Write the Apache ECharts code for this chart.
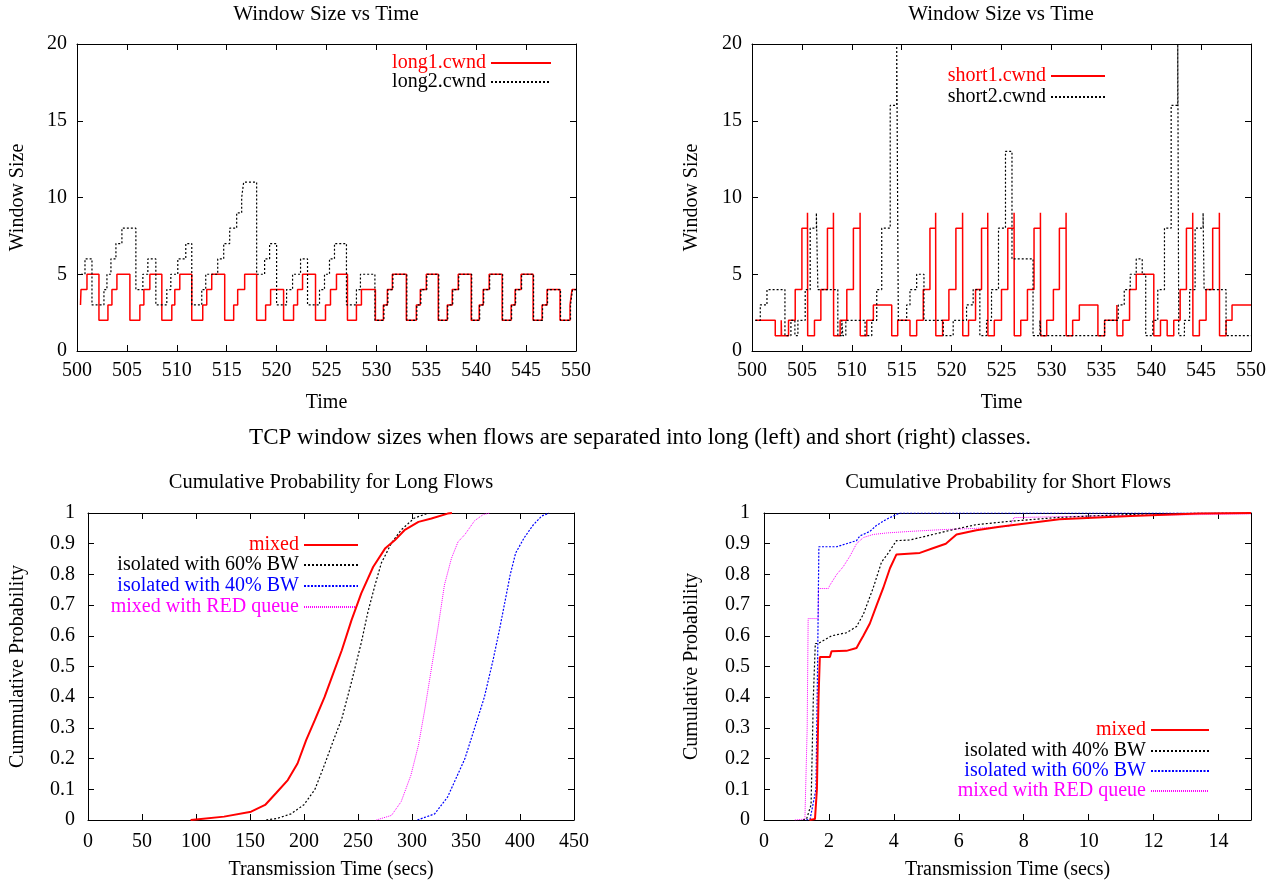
<!DOCTYPE html>
<html><head><meta charset="utf-8">
<script src="https://cdn.jsdelivr.net/npm/echarts@6/dist/echarts.min.js"></script>
<style>html,body{margin:0;padding:0;background:#fff;} .c{position:absolute;left:0;top:0;width:1279px;height:888px;}</style>
</head><body>
<div id="top" class="c"></div><div id="bl" class="c"></div><div id="br" class="c"></div>
<script>
const FONT = 'Liberation Serif';

// ---- Top-left: long flows window size (step data [time, cwnd]) ----
const long1 = [[500.35,3],[500.4,4],[501.0,5],[502.2,2],[503.1,3],[503.5,4],[504.0,5],[505.3,2],[506.3,3],[506.7,4],[507.3,5],[508.5,2],[509.5,3],[509.8,4],[510.3,5],[511.5,2],[512.6,3],[513.0,4],[513.5,5],[514.8,2],[515.7,3],[516.1,4],[516.8,5],[518.0,2],[518.9,3],[519.4,4],[520.7,2],[521.7,3],[522.1,4],[522.6,5],[523.9,2],[524.9,3],[525.4,4],[526.0,5],[527.1,2],[528.0,3],[528.5,4],[529.9,2],[530.7,3],[531.1,4],[531.6,5],[533.0,2],[534.0,3],[534.4,4],[535.0,5],[536.2,2],[537.1,3],[537.6,4],[538.2,5],[539.5,2],[540.3,3],[540.7,4],[541.3,5],[542.6,2],[543.5,3],[543.9,4],[544.5,5],[545.7,2],[546.6,3],[547.1,4],[548.4,2],[549.4,3],[549.6,4],[550,4]];
const long2 = [[500.4,5],[500.8,6],[501.5,3],[502.7,4],[503.0,5],[503.4,6],[503.9,7],[504.5,8],[505.9,4],[506.6,5],[507.1,6],[507.9,3],[509.0,4],[509.4,5],[510.1,6],[510.9,7],[511.5,3],[512.5,4],[512.9,5],[514.1,6],[514.7,7],[515.3,8],[516.0,9],[516.5,10],[516.7,11],[518.0,5],[518.8,6],[519.3,7],[520.0,3],[521.0,4],[521.6,5],[522.4,6],[523.1,3],[524.3,4],[524.8,5],[525.3,6],[525.8,7],[527.0,3],[528.0,4],[528.4,5],[529.85,2],[530.75,3],[531.15,4],[531.65,5],[533.05,2],[534.05,3],[534.45,4],[535.05,5],[536.25,2],[537.15,3],[537.65,4],[538.25,5],[539.55,2],[540.35,3],[540.75,4],[541.35,5],[542.65,2],[543.55,3],[543.95,4],[544.55,5],[545.75,2],[546.65,3],[547.15,4],[548.45,2],[549.45,3],[549.65,4],[550,4]];

// ---- Top-right: short flows window size ----
const short1 = [[500.33,2],[502.33,1],[502.93,2],[502.96,1],[503.66,2],[504.33,4],[505.0,8],[505.56,9],[505.58,1],[506.26,2],[506.9,4],[507.56,8],[508.16,9],[508.18,1],[508.83,2],[509.5,4],[510.16,8],[510.83,9],[510.85,1],[511.5,2],[512.16,3],[514.0,1],[514.6,2],[515.83,1],[516.5,2],[517.16,4],[517.83,8],[518.4,9],[518.42,1],[519.1,2],[519.73,4],[520.43,8],[521.1,9],[521.12,1],[521.7,2],[522.4,4],[523.0,8],[523.62,9],[523.64,1],[524.28,2],[525.0,4],[525.63,8],[526.26,9],[526.28,1],[526.93,2],[527.6,4],[528.26,8],[528.9,9],[528.92,1],[529.53,2],[530.2,4],[530.8,8],[531.47,9],[531.49,1],[532.13,2],[532.8,3],[534.66,1],[535.33,2],[536.56,3],[536.58,1],[537.16,2],[537.83,4],[538.5,5],[540.26,1],[540.93,2],[541.6,1],[542.26,2],[542.9,4],[543.53,8],[544.16,9],[544.18,1],[544.83,2],[545.5,4],[546.16,8],[546.83,9],[546.85,1],[547.5,2],[548.1,3],[550,3]];
const short2 = [[500.33,2],[500.83,3],[501.5,4],[503.3,1],[503.9,2],[504.3,1],[504.6,2],[505.33,4],[505.83,8],[506.45,9],[506.6,4],[508.6,1],[509.0,2],[509.1,1],[509.4,2],[511.33,1],[512.0,2],[512.5,4],[513.0,8],[513.85,16],[514.5,20],[514.66,2],[515.5,3],[515.83,4],[516.5,5],[517.23,2],[519.16,1],[520.16,2],[521.5,3],[522.16,4],[522.83,1],[523.5,2],[524.0,4],[524.7,8],[525.4,13],[526.05,6],[528.16,1],[528.85,2],[528.95,1],[535.33,2],[536.7,3],[537.3,4],[537.9,5],[538.5,6],[539.1,5],[539.45,1],[540.16,2],[540.66,4],[541.33,8],[542.0,16],[542.66,20],[542.76,1],[543.33,2],[543.85,4],[544.4,8],[545.2,9],[545.3,4],[547.5,1],[550,1]];

// ---- Bottom-left: CDF of long flows [secs, probability] ----
const longMixed = [[95,0],[100,0.002],[126,0.011],[151,0.027],[164,0.049],[174,0.087],[185,0.13],[194,0.184],[202,0.26],[210,0.325],[219,0.40],[227,0.477],[235,0.553],[244,0.651],[253,0.738],[264,0.824],[275,0.884],[284,0.911],[293,0.944],[306,0.971],[318,0.982],[333,0.998],[337,1]];
const longIso60 = [[165,0],[175,0.005],[188,0.02],[200,0.05],[210,0.099],[219,0.18],[227,0.257],[235,0.33],[244,0.45],[253,0.577],[259,0.675],[265.5,0.762],[271.6,0.837],[281,0.902],[290,0.945],[302,0.983],[315,1]];
const longIso40 = [[305,0],[321,0.02],[333,0.075],[349,0.2],[358,0.3],[367,0.4],[375,0.52],[381,0.62],[386,0.71],[391,0.8],[396,0.87],[404,0.92],[412,0.96],[420,0.99],[427,1]];
const longRed = [[267,0],[281,0.015],[290,0.06],[299,0.146],[306,0.244],[312,0.363],[318,0.494],[324,0.624],[330,0.765],[336.5,0.852],[342.6,0.906],[349,0.93],[358,0.975],[366,0.995],[372,1]];

// ---- Bottom-right: CDF of short flows ----
const shortMixed = [[1.4,0],[1.57,0.003],[1.63,0.1],[1.68,0.4],[1.72,0.531],[2.03,0.531],[2.08,0.55],[2.54,0.551],[2.85,0.56],[2.95,0.58],[3.06,0.60],[3.26,0.64],[3.47,0.70],[3.67,0.755],[3.88,0.82],[4.08,0.865],[4.8,0.87],[5.2,0.885],[5.6,0.9],[5.93,0.93],[6.54,0.944],[7.26,0.955],[8,0.965],[9.1,0.98],[11.3,0.99],[13.4,0.998],[15,1]];
const shortIso40 = [[1.2,0],[1.31,0.003],[1.45,0.05],[1.52,0.4],[1.58,0.575],[1.67,0.575],[2.08,0.60],[2.54,0.61],[2.85,0.63],[3.06,0.67],[3.36,0.755],[3.62,0.84],[3.83,0.87],[4.08,0.91],[4.49,0.912],[5.2,0.93],[5.83,0.946],[6.54,0.962],[7.57,0.973],[9,0.985],[10,0.99],[12,0.998],[15,1]];
const shortIso60 = [[1.3,0],[1.42,0.003],[1.6,0.1],[1.65,0.5],[1.69,0.89],[2.24,0.89],[2.54,0.90],[2.85,0.91],[2.95,0.925],[3.26,0.94],[3.47,0.96],[3.78,0.98],[3.98,0.99],[4.18,1],[15,1]];
const shortRed = [[0.95,0],[1.26,0.003],[1.33,0.3],[1.36,0.656],[1.67,0.656],[1.68,0.754],[1.98,0.754],[2.03,0.765],[2.24,0.80],[2.44,0.825],[2.65,0.86],[2.85,0.90],[3.06,0.92],[3.36,0.93],[3.78,0.935],[4.49,0.94],[5.52,0.946],[6.54,0.95],[7.57,0.957],[7.7,0.985],[10,0.99],[15,0.997]];

// ---- Text ----
const titleWin = 'Window Size vs Time';
const caption = 'TCP window sizes when flows are separated into long (left) and short (right) classes.';
const titleLong = 'Cumulative Probability for Long Flows';
const titleShort = 'Cumulative Probability for Short Flows';

const RED = '#ff0000', BLACK = '#000000', BLUE = '#0000ff', MAG = '#ff00ff';
const lab = {color:'#000', fontFamily:FONT, fontSize:20};

function axes(gi, xr, yr, xname, yname, xGap, yGap, xMargin, yMargin, hideXMax) {
  const tick = {show:true, inside:true, length:6, lineStyle:{color:'#000', width:1}};
  const line = {show:true, onZero:false, lineStyle:{color:'#000', width:1}};
  const base = {type:'value', gridIndex:gi, splitLine:{show:false}, axisLine:line, axisTick:tick};
  return {
    x: [
      Object.assign({}, base, {position:'bottom', min:xr[0], max:xr[1], interval:xr[2],
        axisLabel:Object.assign({}, lab, {margin:xMargin, showMaxLabel: !hideXMax}),
        name:xname, nameLocation:'middle', nameGap:xGap, nameTextStyle:lab}),
      Object.assign({}, base, {position:'top', min:xr[0], max:xr[1], interval:xr[2], axisLabel:{show:false}})
    ],
    y: [
      Object.assign({}, base, {position:'left', min:yr[0], max:yr[1], interval:yr[2],
        axisLabel:Object.assign({}, lab, {margin:yMargin}),
        name:yname, nameLocation:'middle', nameGap:yGap, nameTextStyle:lab}),
      Object.assign({}, base, {position:'right', min:yr[0], max:yr[1], interval:yr[2], axisLabel:{show:false}})
    ]
  };
}

function leg(name, color, iconRight, centerY, iw) {
  return {data:[{name:name, textStyle:{color:color}}], orient:'vertical', align:'right',
    right:1279 - iconRight, top:centerY - 9, itemWidth:iw, itemHeight:14, padding:0,
    itemStyle:{opacity:0, borderWidth:0}, selectedMode:false,
    textStyle:{fontFamily:FONT, fontSize:20, color:color}};
}

function ser(name, data, xi, yi, color, type, width, step, z) {
  const s = {type:'line', name:name, data:data, xAxisIndex:xi, yAxisIndex:yi, symbol:'none',
    lineStyle:{color:color, width:width, type:type}, itemStyle:{color:color}, z:z, animation:false};
  if (step) s.step = 'end';
  return s;
}

function ttl(text, cx, top, size) {
  return {text:text, left:cx, top:top, textAlign:'center', padding:0,
    textStyle:{fontFamily:FONT, fontSize:size, fontWeight:'normal', color:'#000'}};
}

// ---------- Top chart (two window-size plots + caption) ----------
const aTL = axes(0, [500,550,5], [0,20,5], 'Time', 'Window Size', 42, 49, 10, 10, false);
const aTR = axes(1, [500,550,5], [0,20,5], 'Time', 'Window Size', 42, 50, 10, 10, false);
echarts.init(document.getElementById('top'), null, {renderer:'canvas'}).setOption({
  animation:false,
  title:[ttl(titleWin, 326, 4, 21), ttl(titleWin, 1001, 4, 21), ttl(caption, 640, 426, 23)],
  grid:[
    {left:77, top:44, width:499, height:307, outerBoundsMode:'none'},
    {left:752, top:44, width:499, height:307, outerBoundsMode:'none'}
  ],
  xAxis: aTL.x.concat(aTR.x),
  yAxis: aTL.y.concat(aTR.y),
  legend:[
    leg('long1.cwnd', RED, 552, 62, 60), leg('long2.cwnd', BLACK, 552, 81, 60),
    leg('short1.cwnd', RED, 1106, 75, 54), leg('short2.cwnd', BLACK, 1106, 96, 54)
  ],
  series:[
    ser('long1.cwnd', long1, 0, 0, RED, 'solid', 1.5, true, 2),
    ser('long2.cwnd', long2, 0, 0, BLACK, [2,2], 1.2, true, 3),
    ser('short1.cwnd', short1, 2, 2, RED, 'solid', 1.5, true, 2),
    ser('short2.cwnd', short2, 2, 2, BLACK, [2,2], 1.2, true, 3)
  ]
});

// ---------- Bottom-left ----------
const aBL = axes(0, [0,450,50], [0,1,0.1], 'Transmission Time (secs)', 'Cummulative Probability', 40, 60, 12, 13, false);
echarts.init(document.getElementById('bl')).setOption({
  animation:false,
  title:[ttl(titleLong, 331, 472, 20.5)],
  grid:[{left:88, top:513, width:486, height:307, outerBoundsMode:'none'}],
  xAxis:aBL.x, yAxis:aBL.y,
  legend:[
    leg('mixed', RED, 359, 544, 54), leg('isolated with 60% BW', BLACK, 359, 564, 54),
    leg('isolated with 40% BW', BLUE, 359, 585, 54), leg('mixed with RED queue', MAG, 359, 606, 54)
  ],
  series:[
    ser('mixed', longMixed, 0, 0, RED, 'solid', 2, false, 4),
    ser('isolated with 60% BW', longIso60, 0, 0, BLACK, [2,2], 1.2, false, 3),
    ser('isolated with 40% BW', longIso40, 0, 0, BLUE, [2,1.5], 1.2, false, 3),
    ser('mixed with RED queue', longRed, 0, 0, MAG, [1,1], 1, false, 2)
  ]
});

// ---------- Bottom-right ----------
const aBR = axes(0, [0,15,2], [0,1,0.1], 'Transmission Time (secs)', 'Cumulative Probability', 40, 62, 12, 14, true);
echarts.init(document.getElementById('br')).setOption({
  animation:false,
  title:[ttl(titleShort, 1008, 472, 20.5)],
  grid:[{left:764, top:513, width:487, height:307, outerBoundsMode:'none'}],
  xAxis:aBR.x, yAxis:aBR.y,
  legend:[
    leg('mixed', RED, 1210, 729, 58), leg('isolated with 40% BW', BLACK, 1210, 750, 58),
    leg('isolated with 60% BW', BLUE, 1210, 770, 58), leg('mixed with RED queue', MAG, 1210, 790, 58)
  ],
  series:[
    ser('mixed', shortMixed, 0, 0, RED, 'solid', 2, false, 4),
    ser('isolated with 40% BW', shortIso40, 0, 0, BLACK, [2,2], 1.2, false, 3),
    ser('isolated with 60% BW', shortIso60, 0, 0, BLUE, [2,1.5], 1.2, false, 3),
    ser('mixed with RED queue', shortRed, 0, 0, MAG, [1,1], 1, false, 2)
  ]
});
</script>
</body></html>
